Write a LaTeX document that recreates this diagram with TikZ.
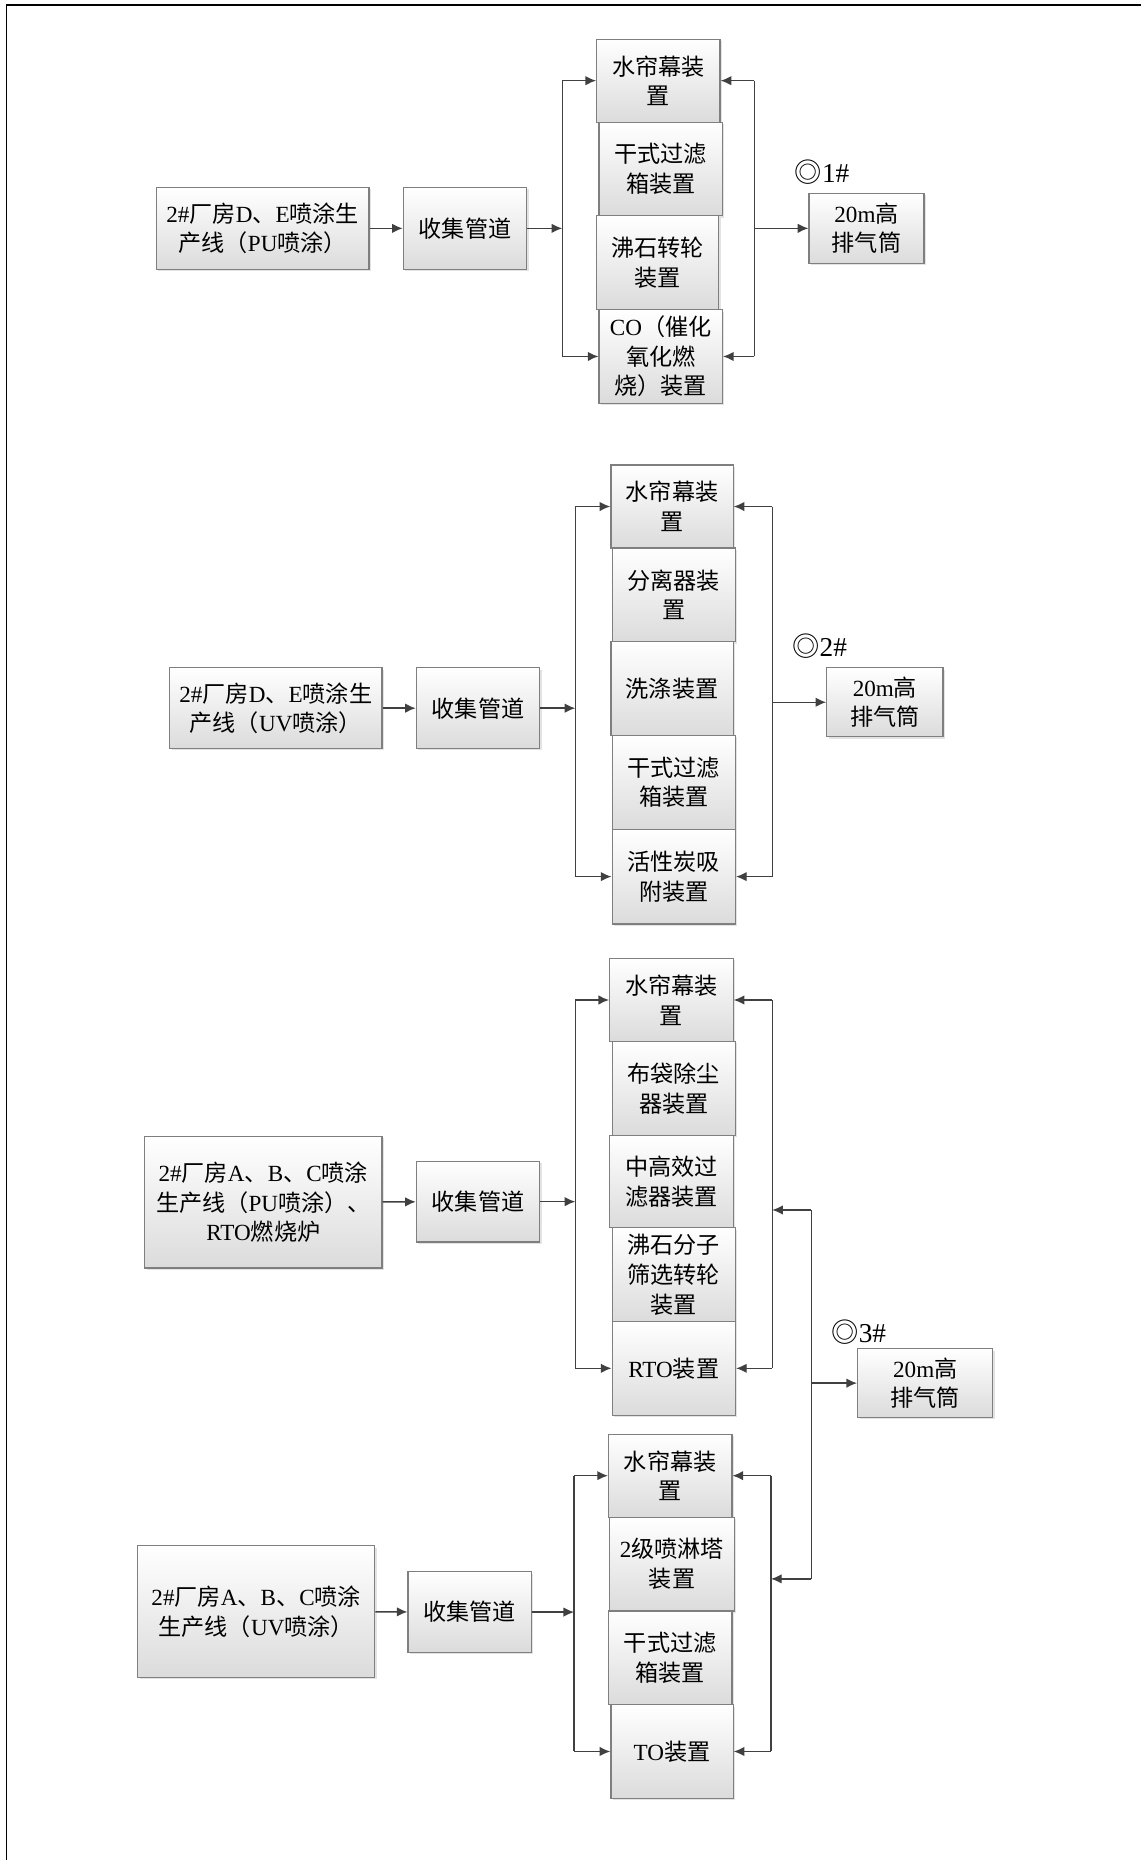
\documentclass[tikz,border=0pt]{standalone}
\usepackage{fontspec}
\setmainfont{Liberation Serif}
\newfontfamily\cjk{Noto Sans CJK SC}
\newcommand\zh[1]{{\cjk #1}}
\usetikzlibrary{arrows.meta,shadows}
\definecolor{edgegray}{HTML}{7F7F7F}
\definecolor{linegray}{HTML}{404040}
\tikzset{
  unit/.style={draw=edgegray, line width=1pt, top color=white, bottom color=black!14,
    drop shadow={shadow xshift=1.6pt, shadow yshift=-1.6pt, fill=black!22},
    align=center, inner sep=0pt, font=\fontsize{19.5}{25}\selectfont},
  flow/.style={draw=linegray, line width=1.2pt, -{Latex[length=9pt,width=8pt]}},
  bus/.style={draw=linegray, line width=1.2pt},
  tag/.style={font=\fontsize{23}{26}\selectfont, inner sep=0pt}
}
% \ubox{name}{left}{top}{right}{bottom}{text}
\newcommand\ubox[6]{\node[unit, minimum width={(#4-#2)*1pt}, minimum height={(#5-#3)*1pt}] (#1) at ({(#2+#4)/2},{(#3+#5)/2}) {#6};}
\begin{document}
\begin{tikzpicture}[x=1pt,y=-1pt]
\useasboundingbox (0,0) rectangle (962,1568);
% frame
\draw[line width=1.6pt] (5.5,1568) -- (5.5,4.2) -- (962,4.2);

% ---------- line 1: D/E, PU ----------
\ubox{s1}{132}{158}{311}{227}{2\#\zh{厂房}D\zh{、}E\zh{喷涂生}\\\zh{产线（}PU\zh{喷涂）}}
\ubox{c1}{340}{158}{444}{227}{\zh{收集管道}}
\ubox{a1}{503}{33}{607}{103}{\zh{水帘幕装}\\\zh{置}}
\ubox{a2}{505}{103}{609}{182}{\zh{干式过滤}\\\zh{箱装置}}
\ubox{a3}{503}{182}{606}{261}{\zh{沸石转轮}\\\zh{装置}}
\ubox{a4}{505}{261}{609}{340}{CO\zh{（催化}\\\zh{氧化燃}\\\zh{烧）装置}}
\ubox{e1}{682}{163}{779}{222}{20m\zh{高}\\\zh{排气筒}}
\node[tag] (t1) at (693,145) {\zh{◎}1\#};
\coordinate (l1) at (474,0);
\coordinate (r1) at (636,0);
\draw[flow] (s1) -- (c1);
\draw[flow] (c1.east) -- (c1.east -| l1);
\draw[bus] (a1.west -| l1) -- (a4.west -| l1);
\draw[flow] (a1.west -| l1) -- (a1.west);
\draw[flow] (a4.west -| l1) -- (a4.west);
\draw[bus] (a1.east -| r1) -- (a4.east -| r1);
\draw[flow] (a1.east -| r1) -- (a1.east);
\draw[flow] (a4.east -| r1) -- (a4.east);
\draw[flow] (e1.west -| r1) -- (e1.west);

% ---------- line 2: D/E, UV ----------
\ubox{s2}{143}{563}{322}{631}{2\#\zh{厂房}D\zh{、}E\zh{喷涂生}\\\zh{产线（}UV\zh{喷涂）}}
\ubox{c2}{351}{563}{455}{631}{\zh{收集管道}}
\ubox{b1}{515}{392}{618}{462}{\zh{水帘幕装}\\\zh{置}}
\ubox{b2}{516}{462}{620}{541}{\zh{分离器装}\\\zh{置}}
\ubox{b3}{515}{541}{618}{620}{\zh{洗涤装置}}
\ubox{b4}{516}{620}{620}{699}{\zh{干式过滤}\\\zh{箱装置}}
\ubox{b5}{516}{699}{620}{779}{\zh{活性炭吸}\\\zh{附装置}}
\ubox{e2}{697}{563}{795}{621}{20m\zh{高}\\\zh{排气筒}}
\node[tag] (t2) at (691,545) {\zh{◎}2\#};
\coordinate (l2) at (485,0);
\coordinate (r2) at (651,0);
\draw[flow] (s2) -- (c2);
\draw[flow] (c2.east) -- (c2.east -| l2);
\draw[bus] (b1.west -| l2) -- (b5.west -| l2);
\draw[flow] (b1.west -| l2) -- (b1.west);
\draw[flow] (b5.west -| l2) -- (b5.west);
\draw[bus] (b1.east -| r2) -- (b5.east -| r2);
\draw[flow] (b1.east -| r2) -- (b1.east);
\draw[flow] (b5.east -| r2) -- (b5.east);
\draw[flow] (e2.west -| r2) -- (e2.west);

% ---------- line 3: A/B/C, PU + RTO ----------
\ubox{s3}{122}{958}{322}{1069}{2\#\zh{厂房}A\zh{、}B\zh{、}C\zh{喷涂}\\\zh{生产线（}PU\zh{喷涂）、}\\RTO\zh{燃烧炉}}
\ubox{c3}{351}{979}{455}{1047}{\zh{收集管道}}
\ubox{g1}{514}{808}{618}{878}{\zh{水帘幕装}\\\zh{置}}
\ubox{g2}{516}{878}{620}{957}{\zh{布袋除尘}\\\zh{器装置}}
\ubox{g3}{514}{957}{618}{1035}{\zh{中高效过}\\\zh{滤器装置}}
\ubox{g4}{516}{1035}{620}{1114}{\zh{沸石分子}\\\zh{筛选转轮}\\\zh{装置}}
\ubox{g5}{516}{1114}{620}{1193}{RTO\zh{装置}}
\ubox{e3}{723}{1137}{837}{1195}{20m\zh{高}\\\zh{排气筒}}
\node[tag] (t3) at (724,1123) {\zh{◎}3\#};
\coordinate (l3) at (485,0);
\coordinate (r3) at (651,0);
\draw[flow] (s3) -- (c3);
\draw[flow] (c3.east) -- (c3.east -| l3);
\draw[bus] (g1.west -| l3) -- (g5.west -| l3);
\draw[flow] (g1.west -| l3) -- (g1.west);
\draw[flow] (g5.west -| l3) -- (g5.west);
\draw[bus] (g1.east -| r3) -- (g5.east -| r3);
\draw[flow] (g1.east -| r3) -- (g1.east);
\draw[flow] (g5.east -| r3) -- (g5.east);

% ---------- line 4: A/B/C, UV ----------
\ubox{s4}{116}{1303}{316}{1414}{2\#\zh{厂房}A\zh{、}B\zh{、}C\zh{喷涂}\\\zh{生产线（}UV\zh{喷涂）}}
\ubox{c4}{344}{1325}{448}{1393}{\zh{收集管道}}
\ubox{d1}{513}{1209}{617}{1279}{\zh{水帘幕装}\\\zh{置}}
\ubox{d2}{514}{1279}{619}{1358}{2\zh{级喷淋塔}\\\zh{装置}}
\ubox{d3}{513}{1358}{617}{1437}{\zh{干式过滤}\\\zh{箱装置}}
\ubox{d4}{515}{1437}{618}{1516}{TO\zh{装置}}
\coordinate (l4) at (484,0);
\coordinate (r4) at (650,0);
\draw[flow] (s4) -- (c4);
\draw[flow] (c4.east) -- (c4.east -| l4);
\draw[bus] (d1.west -| l4) -- (d4.west -| l4);
\draw[flow] (d1.west -| l4) -- (d1.west);
\draw[flow] (d4.west -| l4) -- (d4.west);
\draw[bus] (d1.east -| r4) -- (d4.east -| r4);
\draw[flow] (d1.east -| r4) -- (d1.east);
\draw[flow] (d4.east -| r4) -- (d4.east);

% ---------- shared stack for lines 3 and 4 ----------
\coordinate (f3) at (684,1020);
\coordinate (f4) at (684,1331);
\draw[bus] (f3) -- (f4);
\draw[flow] (f3) -- (f3 -| r3);
\draw[flow] (f4) -- (f4 -| r4);
\draw[flow] (e3.west -| f3) -- (e3.west);
\end{tikzpicture}
\end{document}
